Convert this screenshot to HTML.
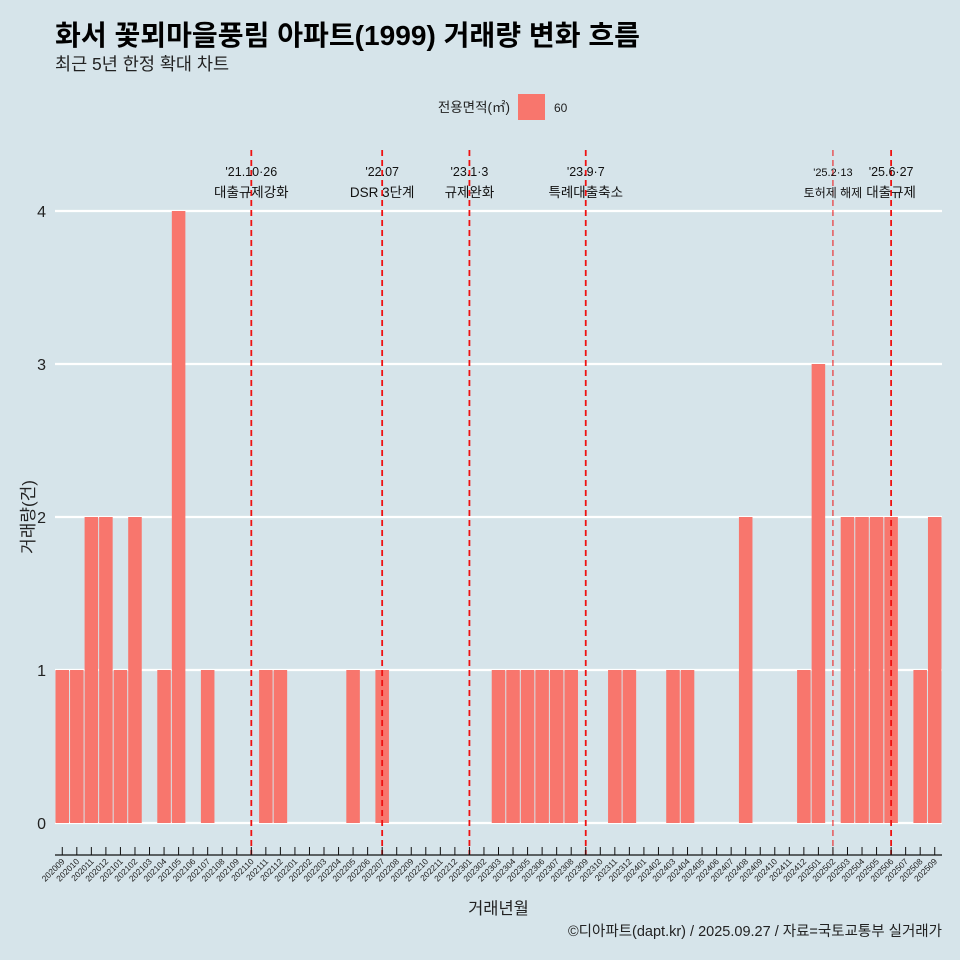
<!DOCTYPE html>
<html><head><meta charset="utf-8"><style>
body{margin:0;background:#d6e4ea;font-family:"Liberation Sans","Noto Sans CJK KR",sans-serif}
svg{display:block}
</style></head><body>
<svg id="c" width="960" height="960" xmlns="http://www.w3.org/2000/svg">
<rect width="960" height="960" fill="#d6e4ea"/>
<text x="55" y="45" font-size="28" font-weight="bold" fill="#000" textLength="585" lengthAdjust="spacingAndGlyphs">화서 꽃뫼마을풍림 아파트(1999) 거래량 변화 흐름</text>
<text x="55" y="70" font-size="17.5" fill="#222">최근 5년 한정 확대 차트</text>
<g>
<text x="510" y="112" font-size="13.5" text-anchor="end" fill="#222">전용면적(㎡)</text>
<rect x="518" y="94" width="27" height="26" fill="#f8766d"/>
<text x="554" y="112" font-size="12" fill="#222">60</text>
</g>
<g id="plot"></g>
<text x="942" y="936" font-size="14.5" text-anchor="end" fill="#222">©디아파트(dapt.kr) / 2025.09.27 / 자료=국토교통부 실거래가</text>
</svg>
<script>
const months=[];
for(let y=2020,m=9;!(y===2025&&m===10);){months.push(''+y+(m<10?'0':'')+m);m++;if(m>12){m=1;y++;}}
const values=[1,1,2,2,1,2,0,1,4,0,1,0,0,0,1,1,0,0,0,0,1,0,1,0,0,0,0,0,0,0,1,1,1,1,1,1,0,0,1,1,0,0,1,1,0,0,0,2,0,0,0,1,3,0,2,2,2,2,0,1,2];
const yTicks=[0,1,2,3,4];
const eventMonths=['202110','202207','202301','202309','202502','202506'];
const eventDates=["'21.10·26","'22.07","'23.1·3","'23.9·7","'25.2·13","'25.6·27"];
const eventLabels=["대출규제강화","DSR 3단계","규제완화","특례대출축소","토허제 해제","대출규제"];
const NS='http://www.w3.org/2000/svg';
const g=document.getElementById('plot');
const x0=55,x1=942,yBase=823,unit=153;
const bw=(x1-x0)/months.length;
const xC=i=>x0+(i+0.5)*bw;
const yS=v=>yBase-v*unit;
function mk(t,a){const e=document.createElementNS(NS,t);for(const k in a)e.setAttribute(k,a[k]);g.appendChild(e);return e;}
yTicks.forEach(t=>{
 const l=mk('line',{x1:x0,x2:x1,y1:yS(t),y2:yS(t),stroke:'#fff','stroke-width':2.2});
 
 
 const tx=mk('text',{x:46,y:yS(t)+6,'font-size':16,'text-anchor':'end',fill:'#222'});tx.textContent=t;
 
 
});
values.forEach((v,i)=>{
 if(v<=0)return;
 const r=mk('rect',{x:x0+i*bw+0.5,y:yS(v),width:bw-1,height:v*unit,fill:'#f8766d'});
 
 
});
eventMonths.forEach((m,k)=>{
 const i=months.indexOf(m);const x=xC(i);
 const thin=(m==='202502');
 const l=mk('line',{x1:x,x2:x,y1:150,y2:855,stroke:'#ee1111','stroke-width':thin?1:1.8,'stroke-dasharray':'6,4'});
 
 
 const fs=thin?11:12.5;
 const a=mk('text',{x:x,y:176,'font-size':fs,'text-anchor':'middle',fill:'#111'});a.textContent=eventDates[k];
 
 
 const b=mk('text',{x:x,y:197,'font-size':fs+1,'text-anchor':'middle',fill:'#111'});b.textContent=eventLabels[k];
 
 
});
const ax=mk('line',{x1:x0,x2:x1,y1:855,y2:855,stroke:'#111','stroke-width':1.2});


months.forEach((m,i)=>{
 const x=xC(i);
 const t=mk('line',{x1:x,x2:x,y1:847,y2:855,stroke:'#111','stroke-width':1});
 
 
 const tx=mk('text',{x:x+3,y:862,'font-size':8.5,'text-anchor':'end',fill:'#222',transform:`rotate(-45 ${x+3} 862)`});
 tx.textContent=m;
 
 
});
const xt=mk('text',{x:(x0+x1)/2,y:914,'font-size':16.5,'text-anchor':'middle',fill:'#222'});xt.textContent='거래년월';


const yt=mk('text',{x:34,y:517,'font-size':17,'text-anchor':'middle',fill:'#222',transform:'rotate(-90 34 517)'});yt.textContent='거래량(건)';


</script>
</body></html>
